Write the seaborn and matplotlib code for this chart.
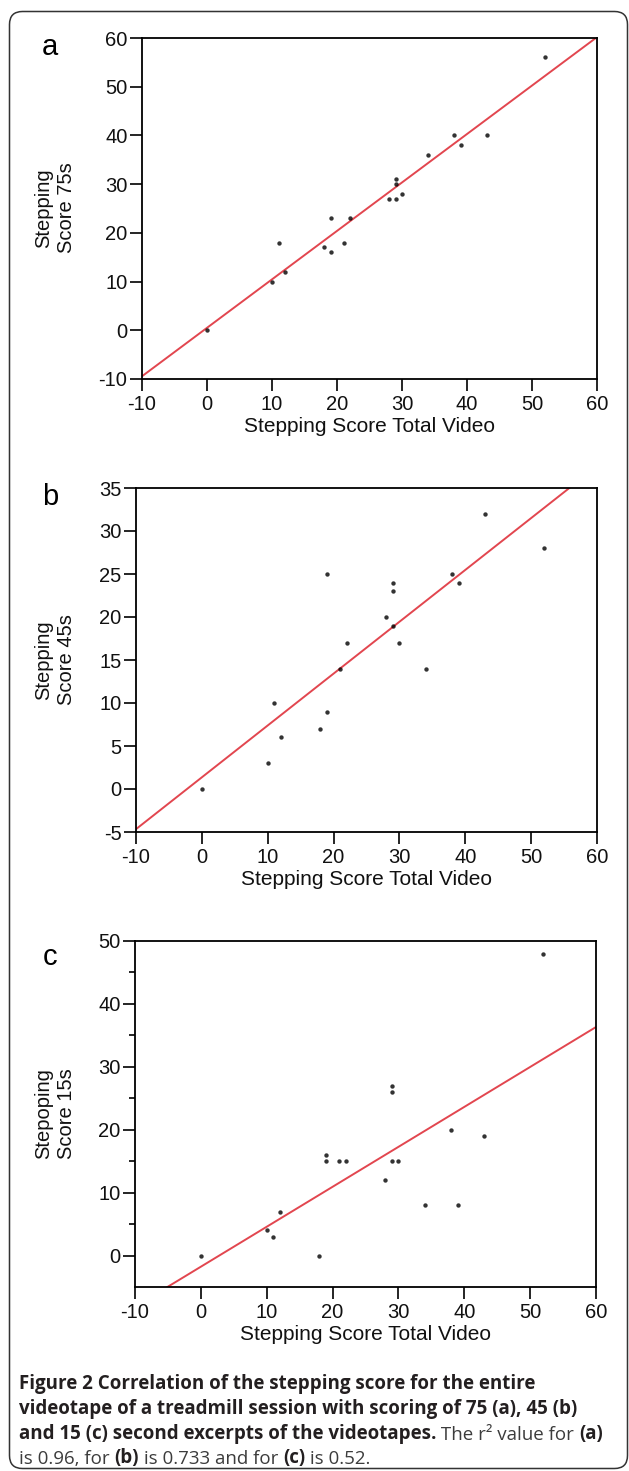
import numpy as np
import pandas as pd
import matplotlib
matplotlib.use("Agg")
import matplotlib.pyplot as plt
import seaborn as sns
from matplotlib.patches import FancyBboxPatch
from matplotlib.ticker import FixedLocator

# ---------------- data ----------------
total_video = [0, 10, 11, 12, 18, 19, 19, 21, 22, 28, 29, 29, 29, 30, 34, 38, 39, 43, 52]
score_75s = [0, 10, 18, 12, 17, 16, 23, 18, 23, 27, 27, 31, 30, 28, 36, 40, 38, 40, 56]
score_45s = [0, 3, 10, 6, 7, 25, 9, 14, 17, 20, 24, 23, 19, 17, 14, 25, 24, 32, 28]
score_15s = [0, 4, 3, 7, 0, 16, 15, 15, 15, 12, 27, 26, 15, 15, 8, 20, 8, 19, 48]

panel_letters = ["a", "b", "c"]
y_labels = ["Stepping\nScore 75s", "Stepping\nScore 45s", "Stepoping\nScore 15s"]
x_label = "Stepping Score Total Video"
x_ticks = [-10, 0, 10, 20, 30, 40, 50, 60]
y_ticks_a = [-10, 0, 10, 20, 30, 40, 50, 60]
y_ticks_b = [-5, 0, 5, 10, 15, 20, 25, 30, 35]
y_ticks_c = [0, 10, 20, 30, 40, 50]
y_minor_c = [5, 15, 25, 35, 45]

df = pd.DataFrame({"total": total_video, "s75": score_75s,
                   "s45": score_45s, "s15": score_15s})

# ---------------- style ----------------
sns.set_style("ticks")
plt.rcParams["font.family"] = ["Liberation Sans", "DejaVu Sans"]

W, H = 629, 1471
fig = plt.figure(figsize=(W / 100, H / 100), dpi=100)
fig.patch.set_facecolor("white")

# overlay axes in pixel coordinates for border & caption
cap = fig.add_axes([0, 0, 1, 1])
cap.set_xlim(0, W)
cap.set_ylim(H, 0)
cap.axis("off")
cap.patch.set_alpha(0)
border = FancyBboxPatch((9.5, 11.5), 618, 1457, boxstyle="round,pad=0,rounding_size=13",
                        fill=False, ec="#333333", lw=1.1)
cap.add_patch(border)

def px_rect(left, top, right, bottom):
    return [left / W, 1 - bottom / H, (right - left) / W, (bottom - top) / H]

panels = [
    dict(rect=px_rect(142, 38, 597, 379), y="s75", ylim=(-10, 60), yt=y_ticks_a, ym=None,
         letter_xy=(50, 47), ylab_y=208),
    dict(rect=px_rect(136, 488, 597, 832), y="s45", ylim=(-5, 35), yt=y_ticks_b, ym=None,
         letter_xy=(50, 497), ylab_y=660),
    dict(rect=px_rect(135, 941, 596, 1287), y="s15", ylim=(-5, 50), yt=y_ticks_c, ym=y_minor_c,
         letter_xy=(50, 957), ylab_y=1114),
]

for i, p in enumerate(panels):
    ax = fig.add_axes(p["rect"])
    ax.set_xlim(-10, 60)
    ax.set_ylim(*p["ylim"])
    sns.regplot(data=df, x="total", y=p["y"], ax=ax, ci=None, truncate=False,
                scatter_kws=dict(s=10, color="black", linewidths=0, zorder=3),
                line_kws=dict(color="#e2464f", lw=1.4, zorder=2))
    ax.set_xlim(-10, 60)
    ax.set_ylim(*p["ylim"])
    ax.set_xticks(x_ticks)
    ax.set_yticks(p["yt"])
    ax.set_xticklabels([str(t) for t in x_ticks])
    ax.set_yticklabels([str(t) for t in p["yt"]])
    if p["ym"] is not None:
        ax.yaxis.set_minor_locator(FixedLocator(p["ym"]))
        ax.tick_params(axis="y", which="minor", direction="out", length=4.5, width=1.2,
                       color="black", left=True)
    for s in ax.spines.values():
        s.set_visible(True)
        s.set_color("black")
        s.set_linewidth(1.3)
    ax.tick_params(axis="both", which="major", direction="out", length=8.5, width=1.2,
                   color="black", labelsize=14.5, labelcolor="#111111")
    ax.tick_params(axis="x", pad=3)
    ax.tick_params(axis="y", pad=2)
    ax.set_xlabel(x_label, fontsize=15, color="#111111", labelpad=2)
    ax.set_ylabel("")
    ax.set_facecolor("white")
    cap.text(p["letter_xy"][0], p["letter_xy"][1], panel_letters[i], fontsize=21,
             ha="center", va="center", color="black")
    cap.text(55, p["ylab_y"], y_labels[i], fontsize=14.5, rotation=90, ha="center",
             va="center", multialignment="center", linespacing=1.3, color="#111111")

# ---------------- caption ----------------
cap_font = ["Open Sans", "DejaVu Sans"]
cap_lines = [
    [("Figure 2 Correlation of the stepping score for the entire", "bold")],
    [("videotape of a treadmill session with scoring of 75 (a), 45 (b)", "bold")],
    [("and 15 (c) second excerpts of the videotapes.", "bold"),
     (" The r\u00b2 value for ", "normal"), ("(a)", "bold")],
    [("is 0.96, for ", "normal"), ("(b)", "bold"), (" is 0.733 and for ", "normal"),
     ("(c)", "bold"), (" is 0.52.", "normal")],
]
line_base = [1389, 1414, 1439, 1464]
for base, segs in zip(line_base, cap_lines):
    prev = None
    for txt, wt in segs:
        col = "#231f20" if wt == "bold" else "#3c3c3c"
        if prev is None:
            prev = cap.text(19, base, txt, fontsize=13.5, fontweight=wt, family=cap_font,
                            ha="left", va="baseline", color=col)
        else:
            prev = cap.annotate(txt, xy=(1, 0), xycoords=prev, ha="left", va="bottom",
                                fontsize=13.5, fontweight=wt, family=cap_font, color=col)

fig.savefig("out.png", dpi=100)
